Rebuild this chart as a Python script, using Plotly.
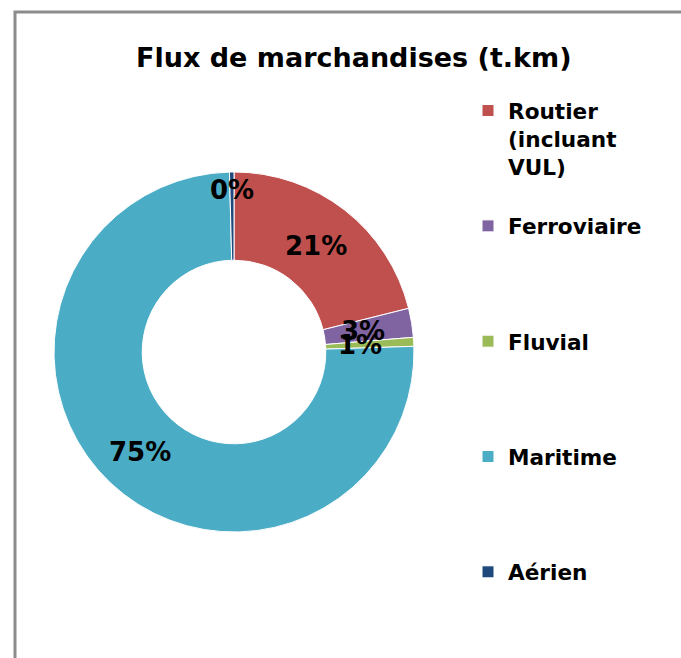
import math
import plotly.graph_objects as go

categories = ["Routier (incluant VUL)", "Ferroviaire", "Fluvial", "Maritime", "Aérien"]
legend_lines = [["Routier", "(incluant", "VUL)"], ["Ferroviaire"], ["Fluvial"], ["Maritime"], ["Aérien"]]
values = [21.1, 2.6, 0.8, 75.1, 0.4]
colors = ["#C0504D", "#8064A2", "#9BBB59", "#4BACC6", "#1F497D"]
title_text = "Flux de marchandises (t.km)"

W, H = 681, 658
FONT = "DejaVu Sans"

# radius (px) at which each percentage label sits (style, not data)
label_radius = [134, 131, 126, 137, 162]

# legend labels padded with blank lines to reproduce the wide vertical spacing
legend_labels = []
for i, lines in enumerate(legend_lines):
    if i == len(legend_lines) - 1:
        pad = 0
    elif len(lines) > 1:
        pad = 1
    else:
        pad = 3
    legend_labels.append("<br>".join(lines + ["\u00a0"] * pad))

cx, cy, r = 234, 352, 180
fig = go.Figure(go.Pie(
    labels=legend_labels,
    values=values,
    customdata=categories,
    hole=0.51,
    sort=False,
    direction="clockwise",
    rotation=0,
    marker=dict(colors=colors, line=dict(color="white", width=1)),
    textinfo="none",
    hovertemplate="%{customdata}: %{percent}<extra></extra>",
    domain=dict(x=[(cx - r) / W, (cx + r) / W], y=[(H - cy - r) / H, (H - cy + r) / H]),
))

# percentage labels placed at the middle angle of each slice
total = sum(values)
annotations = []
cum = 0.0
for v, rl in zip(values, label_radius):
    mid = (cum + v / 2) / total * 2 * math.pi
    cum += v
    px = cx + rl * math.sin(mid)
    py = cy - rl * math.cos(mid)
    annotations.append(dict(
        text="%d%%" % round(v / total * 100),
        x=px / W, y=1 - py / H, xref="paper", yref="paper",
        xanchor="center", yanchor="middle", showarrow=False,
        font=dict(family=FONT, size=26, color="black", weight="bold"),
    ))

annotations.append(dict(
    text="<b>" + title_text + "</b>",
    x=353 / W, y=1 - 58 / H, xref="paper", yref="paper",
    xanchor="center", yanchor="middle", showarrow=False,
    font=dict(family=FONT, size=27, color="black"),
))

fig.update_layout(
    width=W, height=H,
    margin=dict(l=0, r=0, t=0, b=0),
    paper_bgcolor="white",
    plot_bgcolor="white",
    showlegend=True,
    legend=dict(
        x=468 / W, xanchor="left",
        y=1 - 90 / H, yanchor="top",
        valign="top",
        font=dict(family=FONT, size=21.6, color="black", weight="bold"),
        bgcolor="rgba(0,0,0,0)",
    ),
    annotations=annotations,
    shapes=[dict(
        type="rect", xref="paper", yref="paper",
        x0=15 / W, x1=1.05, y0=-0.05, y1=1 - 12 / H,
        line=dict(color="#8C8C8C", width=3), fillcolor="rgba(0,0,0,0)",
        layer="below",
    )],
)

fig.write_html("out.html", config={"displayModeBar": False},
               post_script="document.body.style.margin='0';")
